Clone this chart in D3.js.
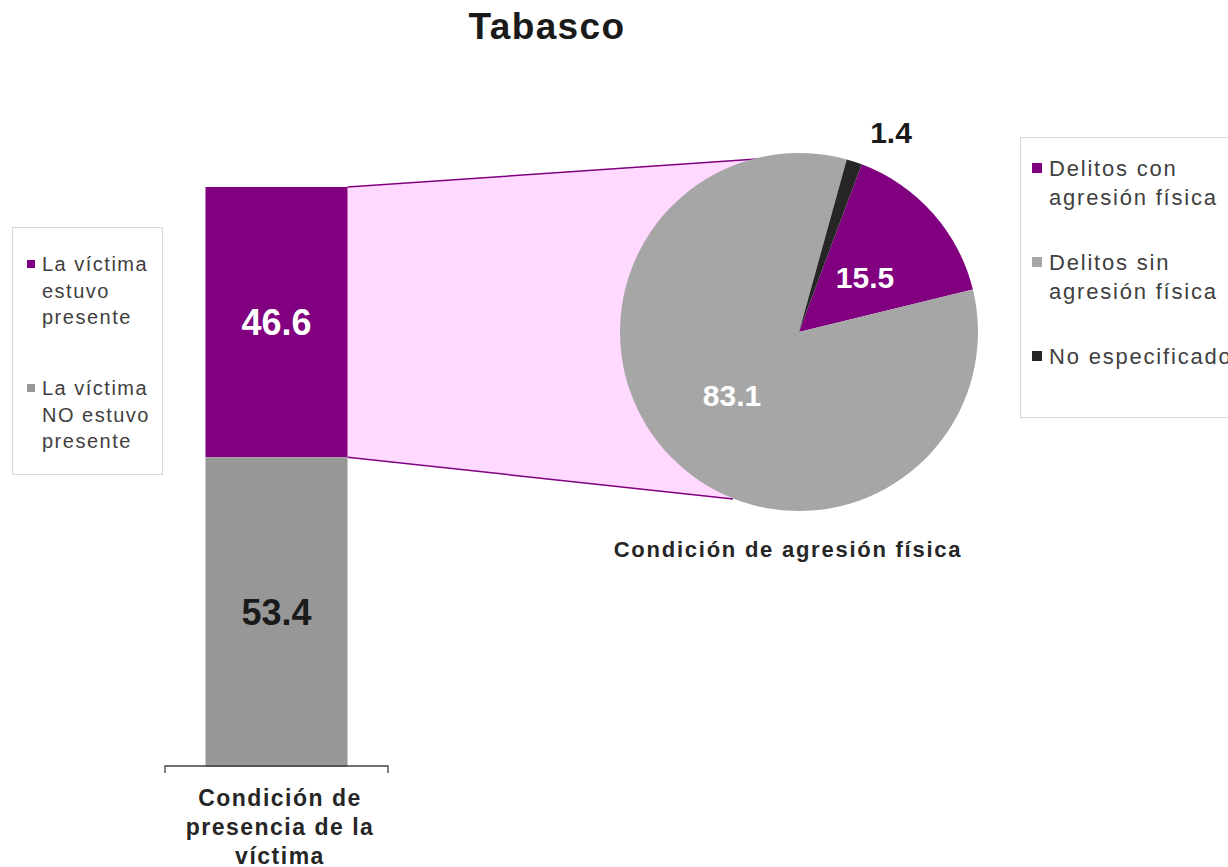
<!DOCTYPE html>
<html><head><meta charset="utf-8">
<script src="https://cdn.jsdelivr.net/npm/d3@7"></script>
<style>body{margin:0;background:#fff;} svg{display:block;font-family:Arial,"Liberation Sans",sans-serif;}</style>
</head><body>
<script>
const title = "Tabasco";
const barCategories = ["La víctima estuvo presente", "La víctima NO estuvo presente"];
const barValues = [46.6, 53.4];
const barLegendLines = [["La víctima","estuvo","presente"],["La víctima","NO estuvo","presente"]];
const barAxisLabel = ["Condición de","presencia de la","víctima"];
const pieCategories = ["Delitos con agresión física","Delitos sin agresión física","No especificado"];
const pieValues = [15.5, 83.1, 1.4];
const pieLegendLines = [["Delitos con","agresión física"],["Delitos sin","agresión física"],["No especificado"]];
const pieAxisLabel = "Condición de agresión física";

const barColors = ["#800080", "#979797"];
const pieColors = ["#800080", "#a6a6a6", "#262626"];

const W = 1228, H = 867;
const svg = d3.select("body").append("svg").attr("width", W).attr("height", H);

svg.append("text").attr("x", 547).attr("y", 39).attr("text-anchor","middle")
  .attr("font-size", 37).attr("font-weight","bold").attr("letter-spacing",1.4).attr("fill","#1a1a1a").text(title);

// Bar (stacked)
const y = d3.scaleLinear().domain([0,100]).range([767,187]);
const x = d3.scaleBand().domain(["bar"]).range([165,388]).paddingInner(0).paddingOuter(0.285);
let acc = 0;
const stack = barValues.map((v,i)=>{ const d={i, v, y0: 100-acc-v, y1: 100-acc}; acc+=v; return d; });

// Pie geometry
const cx = 799, cy = 332, R = 179;
const a0 = 20.5*Math.PI/180;
const pie = d3.pie().sort(null).startAngle(a0).endAngle(a0 + 2*Math.PI);
const arcs = pie(pieValues);
const arc = d3.arc().innerRadius(0).outerRadius(R);

// connector
const topSeg = stack[0];
const bx = x("bar") + x.bandwidth();
const pTop = [757, 159], pBot = [733, 499];
const conn = [[bx, y(topSeg.y1)], pTop, [cx, cy], pBot, [bx, y(topSeg.y0)]];
svg.append("path").attr("d", "M"+conn.map(p=>p.join(",")).join("L")+"Z").attr("fill","#ffd9ff");
svg.append("line").attr("x1",bx).attr("y1",y(topSeg.y1)).attr("x2",pTop[0]).attr("y2",pTop[1]).attr("stroke","#800080").attr("stroke-width",1.5);
svg.append("line").attr("x1",bx).attr("y1",y(topSeg.y0)).attr("x2",pBot[0]).attr("y2",pBot[1]).attr("stroke","#800080").attr("stroke-width",1.5);

svg.selectAll("rect.bar").data(stack).join("rect").attr("class","bar")
  .attr("x", x("bar")).attr("width", x.bandwidth())
  .attr("y", d=>y(d.y1)).attr("height", d=>y(d.y0)-y(d.y1))
  .attr("fill", d=>barColors[d.i]);
svg.selectAll("text.barlbl").data(stack).join("text").attr("class","barlbl")
  .attr("x", x("bar")+x.bandwidth()/2).attr("y", d=>(y(d.y0)+y(d.y1))/2+13)
  .attr("text-anchor","middle").attr("font-size",36).attr("font-weight","bold")
  .attr("fill", d=>d.i===0?"#fff":"#1a1a1a").text(d=>d.v.toFixed(1));

// bar axis
const ax = svg.append("g").attr("fill","none").attr("stroke","#404040").attr("stroke-width",1.3);
ax.append("path").attr("d", `M${x.range()[0]},773V766H${x.range()[1]}V773`);
barAxisLabel.forEach((t,i)=>svg.append("text").attr("x",280).attr("y",806+i*29).attr("text-anchor","middle")
  .attr("font-size",23).attr("font-weight","bold").attr("letter-spacing",1.5).attr("fill","#262626").text(t));

// pie
const pg = svg.append("g").attr("transform",`translate(${cx},${cy})`);
pg.selectAll("path").data(arcs).join("path").attr("d", arc).attr("fill",(d,i)=>pieColors[i]);
const lblPos = [[66,-55],[-67,63]];
[0,1].forEach(i=>{
  pg.append("text").attr("x",lblPos[i][0]).attr("y",lblPos[i][1]+11).attr("text-anchor","middle")
    .attr("font-size",30).attr("font-weight","bold").attr("fill","#fff").text(pieValues[i].toFixed(1));
});
svg.append("text").attr("x",891).attr("y",143).attr("text-anchor","middle")
  .attr("font-size",30).attr("font-weight","bold").attr("fill","#1a1a1a").text(pieValues[2].toFixed(1));
svg.append("text").attr("x",788).attr("y",557).attr("text-anchor","middle")
  .attr("font-size",22).attr("font-weight","bold").attr("letter-spacing",1.75).attr("fill","#262626").text(pieAxisLabel);

// left legend
svg.append("rect").attr("x",12.5).attr("y",227.5).attr("width",150).attr("height",247).attr("fill","#fff").attr("stroke","#d9d9d9");
const lTops = [264, 388];
barLegendLines.forEach((lines,i)=>{
  svg.append("rect").attr("x",27).attr("y",lTops[i]-4).attr("width",8).attr("height",8).attr("fill",barColors[i]);
  lines.forEach((t,j)=>svg.append("text").attr("x",42).attr("y",lTops[i]+7+j*26.5)
    .attr("font-size",20).attr("letter-spacing",1.5).attr("fill","#404040").text(t));
});

// right legend
svg.append("rect").attr("x",1020.5).attr("y",137.5).attr("width",220).attr("height",280).attr("fill","#fff").attr("stroke","#d9d9d9");
const rTops = [168, 262, 356];
pieLegendLines.forEach((lines,i)=>{
  svg.append("rect").attr("x",1032).attr("y",rTops[i]-5).attr("width",10).attr("height",10).attr("fill",pieColors[i]);
  lines.forEach((t,j)=>svg.append("text").attr("x",1049).attr("y",rTops[i]+8+j*29)
    .attr("font-size",22).attr("letter-spacing",1.8).attr("fill","#404040").text(t));
});
</script>
</body></html>
